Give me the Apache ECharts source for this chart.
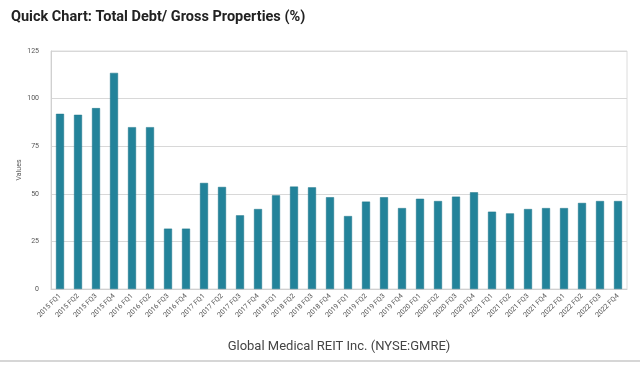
<!DOCTYPE html>
<html>
<head>
<meta charset="utf-8">
<script src="https://cdn.jsdelivr.net/npm/echarts@6/dist/echarts.min.js"></script>
<style>html,body{margin:0;padding:0;background:#fff;}#c{width:640px;height:365px;}</style>
</head>
<body>
<div id="c"></div>
<script>
const categories = [
  "2015 FQ1","2015 FQ2","2015 FQ3","2015 FQ4",
  "2016 FQ1","2016 FQ2","2016 FQ3","2016 FQ4",
  "2017 FQ1","2017 FQ2","2017 FQ3","2017 FQ4",
  "2018 FQ1","2018 FQ2","2018 FQ3","2018 FQ4",
  "2019 FQ1","2019 FQ2","2019 FQ3","2019 FQ4",
  "2020 FQ1","2020 FQ2","2020 FQ3","2020 FQ4",
  "2021 FQ1","2021 FQ2","2021 FQ3","2021 FQ4",
  "2022 FQ1","2022 FQ2","2022 FQ3","2022 FQ4"
];
const debtToGross = [
  92.0, 91.5, 95.0, 113.5,
  85.0, 85.0, 31.7, 31.7,
  55.7, 53.6, 38.7, 42.0,
  49.2, 53.8, 53.4, 48.2,
  38.3, 45.9, 48.2, 42.5,
  47.4, 46.2, 48.5, 50.8,
  40.6, 39.7, 42.0, 42.5,
  42.5, 45.2, 46.2, 46.2
];
const yTicks = { min: 0, max: 125, interval: 25 };

const chart = echarts.init(document.getElementById('c'), null, { renderer: 'canvas' });
chart.setOption({
  animation: false,
  backgroundColor: '#fff',
  title: {
    text: 'Quick Chart: Total Debt/ Gross Properties (%)',
    left: 6, top: 5,
    textStyle: { fontFamily: 'Roboto', fontWeight: 'bold', fontSize: 14.5, color: '#222' }
  },
  grid: {
    left: 51, right: 13, top: 51, bottom: 76,
    show: true, borderColor: '#dcdcdc', borderWidth: 1
  },
  xAxis: {
    type: 'category',
    data: categories,
    name: 'Global Medical REIT Inc. (NYSE:GMRE)',
    nameLocation: 'middle',
    nameGap: 51,
    nameTextStyle: { fontFamily: 'Roboto', fontSize: 13, color: '#444' },
    axisLine: { lineStyle: { color: '#d0d0d0' } },
    axisTick: { show: false },
    axisLabel: {
      rotate: 45, interval: 0, fontSize: 7, color: '#555', margin: 6,
      fontFamily: 'Roboto'
    }
  },
  yAxis: {
    type: 'value',
    min: yTicks.min, max: yTicks.max, interval: yTicks.interval,
    name: 'Values',
    nameLocation: 'middle',
    nameGap: 28,
    nameMoveOverlap: false,
    nameTextStyle: { fontFamily: 'Roboto', fontSize: 7, color: '#555' },
    axisLine: { show: true, lineStyle: { color: '#d0d0d0' } },
    axisTick: { show: false },
    axisLabel: { fontSize: 7, color: '#555', margin: 12, fontFamily: 'Roboto' },
    splitLine: { lineStyle: { color: '#d8d8d8' } }
  },
  series: [{
    type: 'bar',
    data: debtToGross,
    barWidth: 8,
    itemStyle: { color: '#23839a', borderColor: '#1d7489', borderWidth: 0.5 }
  }],
  graphic: [{
    type: 'line',
    shape: { x1: 0, y1: 361, x2: 640, y2: 361 },
    style: { stroke: '#c8c8c8', lineWidth: 1.5 }
  }]
});
</script>
</body>
</html>
